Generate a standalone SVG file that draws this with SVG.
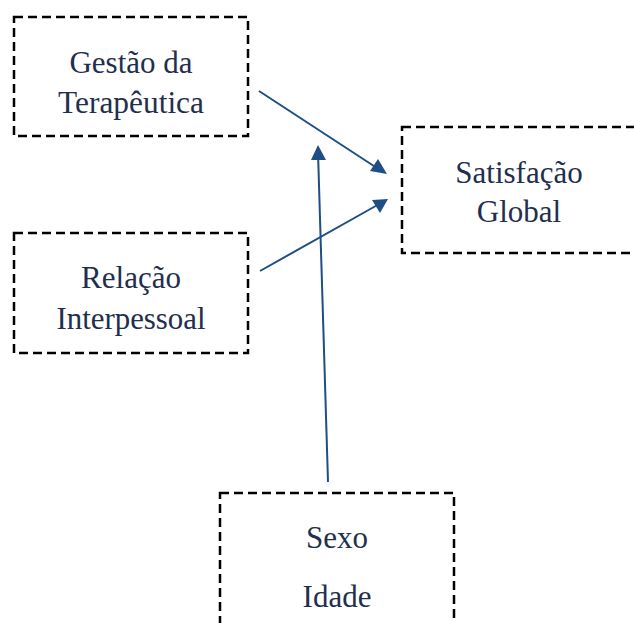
<svg xmlns="http://www.w3.org/2000/svg" width="634" height="623" viewBox="0 0 634 623">
<style>
.box{fill:none;stroke:#000;stroke-width:2.5;stroke-dasharray:9 5}
.t{font-size:31px;fill:#1f2f4e;text-anchor:middle}
.ln{stroke:#1f4e84;stroke-width:2}
.hd{fill:#1f4e84}
</style>
<rect width="634" height="623" fill="#fff"/>
<g font-family="'Liberation Serif', 'Times New Roman', serif">
<g id="gestao"><rect class="box" x="14" y="17" width="234" height="119"/><text class="t" x="131" y="73">Gestão da</text><text class="t" x="131" y="113" textLength="146" lengthAdjust="spacingAndGlyphs">Terapêutica</text></g>
<g id="relacao"><rect class="box" x="14" y="233" width="234" height="120"/><text class="t" x="131" y="288">Relação</text><text class="t" x="131" y="329" textLength="149" lengthAdjust="spacingAndGlyphs">Interpessoal</text></g>
<g id="satisfacao"><rect class="box" x="402" y="127" width="240" height="126"/><text class="t" x="519" y="183">Satisfação</text><text class="t" x="519" y="222">Global</text></g>
<g id="sexo"><rect class="box" x="220" y="493" width="234" height="140"/><text class="t" x="337" y="548">Sexo</text><text class="t" x="337" y="607">Idade</text></g>
</g>
<g id="connectors">
<line class="ln" x1="259" y1="91" x2="380" y2="170"/>
<polygon class="hd" points="387,174 370,171 378,159"/>
<line class="ln" x1="260" y1="271" x2="381" y2="203"/>
<polygon class="hd" points="388,199 380,213 372,200"/>
<line class="ln" x1="328" y1="482" x2="318" y2="152"/>
<polygon class="hd" points="318,145 326,160 311,160"/>
</g>
</svg>
